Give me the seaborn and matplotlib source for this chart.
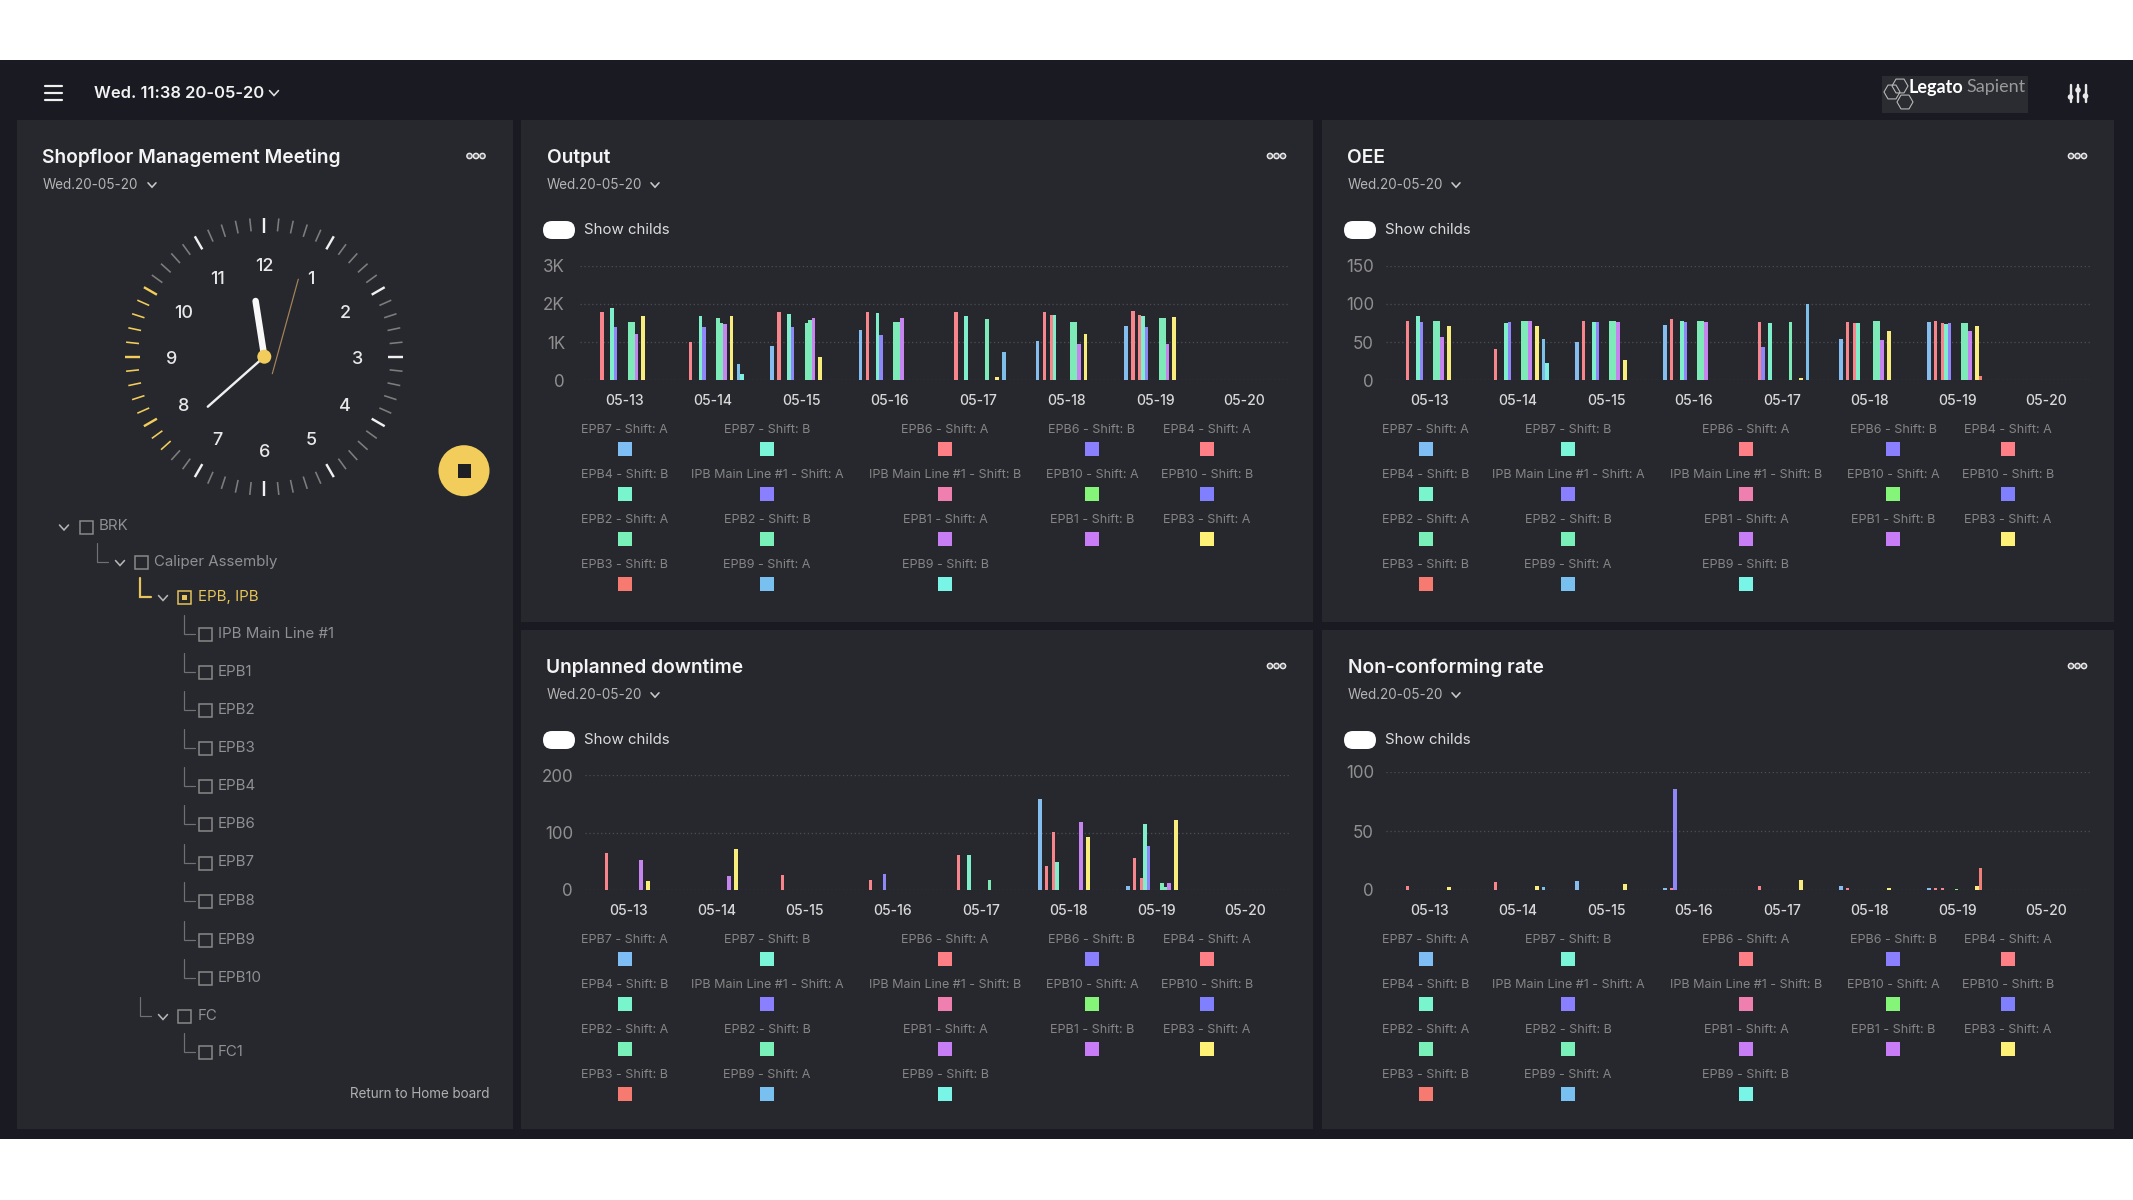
import math
import matplotlib
matplotlib.use("Agg")
import matplotlib.pyplot as plt
from matplotlib.patches import Rectangle, FancyBboxPatch, Circle, RegularPolygon
import pandas as pd
import seaborn as sns

# ---------- data ----------
DAYS = ["05-13", "05-14", "05-15", "05-16", "05-17", "05-18", "05-19", "05-20"]
SERIES = ["EPB7 - Shift: A", "EPB7 - Shift: B", "EPB6 - Shift: A", "EPB6 - Shift: B", "EPB4 - Shift: A",
          "EPB4 - Shift: B", "IPB Main Line #1 - Shift: A", "IPB Main Line #1 - Shift: B", "EPB10 - Shift: A",
          "EPB10 - Shift: B", "EPB2 - Shift: A", "EPB2 - Shift: B", "EPB1 - Shift: A", "EPB1 - Shift: B",
          "EPB3 - Shift: A", "EPB3 - Shift: B", "EPB9 - Shift: A", "EPB9 - Shift: B"]
COLORS = ["#7fbdf5", "#7bf5d8", "#ff7f86", "#8a80ff", "#ff7f86", "#78f5cc", "#8a80ff", "#ef7fae", "#85f57a",
          "#8080ff", "#78f0b8", "#78f0b8", "#c77ef5", "#c87cf5", "#fff176", "#f77a70", "#78c0f0", "#78f5e6"]

# one row per day, one column per series
OUTPUT = [
    [0, 0, 1790, 0, 0, 1900, 1400, 0, 0, 0, 1520, 1520, 1200, 0, 1690, 0, 0, 0],
    [0, 0, 990, 0, 0, 1690, 1400, 0, 0, 0, 1620, 1510, 1470, 0, 1690, 0, 420, 160],
    [900, 0, 1790, 0, 0, 1730, 1400, 0, 0, 0, 1510, 1570, 1620, 0, 600, 0, 0, 0],
    [1310, 0, 1790, 0, 0, 1760, 1180, 0, 0, 0, 1520, 1520, 1620, 0, 0, 0, 0, 0],
    [0, 0, 1790, 0, 0, 1690, 0, 0, 0, 0, 0, 1600, 0, 0, 90, 0, 750, 0],
    [1020, 0, 1790, 0, 1700, 1700, 0, 0, 0, 0, 1520, 1520, 960, 0, 1200, 0, 0, 0],
    [1410, 0, 1810, 0, 1700, 1680, 1400, 0, 0, 0, 1620, 1620, 940, 0, 1670, 0, 0, 0],
    [0] * 18,
]
OEE = [
    [0, 0, 78, 0, 0, 84, 76, 0, 0, 0, 78, 78, 57, 0, 71, 0, 0, 0],
    [0, 0, 41, 0, 0, 75, 76, 0, 0, 0, 77, 77, 77, 0, 71, 0, 54, 23],
    [50, 0, 78, 0, 0, 76, 76, 0, 0, 0, 78, 78, 76, 0, 27, 0, 0, 0],
    [72, 0, 80, 0, 0, 77, 76, 0, 0, 0, 78, 78, 76, 0, 0, 0, 0, 0],
    [0, 0, 76, 43, 0, 75, 0, 0, 0, 0, 0, 76, 0, 0, 3.5, 0, 100, 0],
    [54, 0, 76, 0, 75, 75, 0, 0, 0, 0, 78, 78, 53, 0, 65, 0, 0, 0],
    [76, 0, 78, 0, 75, 74, 75, 0, 0, 0, 75, 75, 65, 0, 71, 6, 0, 0],
    [0] * 18,
]
DOWNTIME = [
    [0, 0, 65, 0, 0, 0, 0, 0, 0, 0, 0, 0, 53, 0, 16, 0, 0, 0],
    [0, 0, 0, 0, 0, 0, 0, 0, 0, 0, 0, 0, 24, 0, 72, 0, 0, 0],
    [0, 0, 26, 0, 0, 0, 0, 0, 0, 0, 0, 0, 0, 0, 0, 0, 0, 0],
    [0, 0, 17, 0, 0, 0, 28, 0, 0, 0, 0, 0, 0, 0, 0, 0, 0, 0],
    [0, 0, 61, 0, 0, 61, 0, 0, 0, 0, 0, 17, 0, 0, 0, 0, 0, 0],
    [158, 0, 42, 0, 101, 48, 0, 0, 0, 0, 0, 0, 119, 0, 93, 0, 0, 0],
    [7, 0, 55, 0, 21, 115, 77, 0, 0, 0, 13, 6, 13, 0, 121, 0, 0, 0],
    [0] * 18,
]
NONCONF = [
    [0, 0, 3, 0, 0, 0, 0, 0, 0, 0, 0, 0, 0, 0, 2.5, 0, 0, 0],
    [0, 0, 7, 0, 0, 0, 0, 0, 0, 0, 0, 0, 0, 0, 3, 0, 2.5, 0],
    [8, 0, 0, 0, 0, 0, 0, 0, 0, 0, 0, 0, 0, 0, 5, 0, 0, 0],
    [1.5, 0, 1.5, 86, 0, 0, 0, 0, 0, 0, 0, 0, 0, 0, 0, 0, 0, 0],
    [0, 0, 3, 0, 0, 0, 0, 0, 0, 0, 0, 0, 0, 0, 8.5, 0, 0, 0],
    [3.7, 0, 1.5, 0, 0, 0, 0, 0, 0, 0, 0, 0, 0, 0, 1.5, 0, 0, 0],
    [1.5, 0, 1.5, 0, 1.5, 0, 0, 0, 1, 0, 0, 0, 0, 0, 3, 19, 0, 0],
    [0] * 18,
]
OUTPUT_TICKS, OUTPUT_TICKLABELS = [0, 1000, 2000, 3000], ["0", "1K", "2K", "3K"]
OEE_TICKS = [0, 50, 100, 150]
DOWNTIME_TICKS = [0, 100, 200]
NONCONF_TICKS = [0, 50, 100]
TREE_ROWS = [("BRK", 0), ("Caliper Assembly", 1), ("EPB, IPB", 2), ("IPB Main Line #1", 3), ("EPB1", 3), ("EPB2", 3),
             ("EPB3", 3), ("EPB4", 3), ("EPB6", 3), ("EPB7", 3), ("EPB8", 3), ("EPB9", 3), ("EPB10", 3), ("FC", 2),
             ("FC1", 3)]
CLOCK_NUMBERS = list(range(1, 13))

# ---------- style ----------
sns.set_theme(style="dark")
plt.rcParams["font.family"] = ["Inter", "DejaVu Sans"]
W, H = 2133, 1200
BAND, PANEL, YEL = "#1a1b22", "#27282d", "#f2cd5c"
GRID, AXTXT, LEGTXT = "#4c4d52", "#8f8f8f", "#858585"


def pt(px):
    return px * 0.72


fig = plt.figure(figsize=(W / 100, H / 100), dpi=100, facecolor="white")
bg = fig.add_axes([0, 0, 1, 1], zorder=0)
bg.set_xlim(0, W)
bg.set_ylim(H, 0)
bg.axis("off")


def rect(x0, y0, x1, y1, color, z=1):
    bg.add_patch(Rectangle((x0, y0), x1 - x0, y1 - y0, facecolor=color, edgecolor="none", zorder=z))


def label(x, y, s, px, color, ha="left", weight="normal", **kw):
    bg.text(x, y, s, fontsize=pt(px), color=color, ha=ha, va="center", fontweight=weight, zorder=5, **kw)


def line(xs, ys, color, px=1.2, z=4, cap="round"):
    bg.plot(xs, ys, color=color, lw=pt(px), solid_capstyle=cap, solid_joinstyle="miter", zorder=z)


def chevron(x, y, s=4, color="#c8c8c8", px=1.6):
    line([x - s, x, x + s], [y - s * 0.55, y + s * 0.55, y - s * 0.55], color, px)


def dots(cx, y):
    for d in (-6.5, 0, 6.5):
        bg.add_patch(Circle((cx + d, y), 2.6, facecolor="#55565a", edgecolor="#e8e8e8", lw=pt(1.5), zorder=5))


def pill(x0, y0, x1, y1, color="white"):
    r = (y1 - y0) / 2
    bg.add_patch(FancyBboxPatch((x0 + r, y0 + r), x1 - x0 - 2 * r, 0.01, boxstyle=f"round,pad={r - 0.01}",
                                facecolor=color, edgecolor="none", zorder=4))


# page background
rect(0, 60, W, 1139, BAND, 0)
for x0, y0, x1, y1 in [(17, 120, 513, 1129), (521, 120, 1313, 622), (1322, 120, 2114, 622),
                       (521, 630, 1313, 1129), (1322, 630, 2114, 1129)]:
    rect(x0, y0, x1, y1, PANEL)

# header
for y in (86, 93, 100):
    line([45, 62], [y, y], "#f0f0f0", 2.2)
label(94, 93, "Wed. 11:38 20-05-20", 16.5, "#f2f2f2", weight="semibold")
chevron(274, 93, 4.5, "#e0e0e0")
rect(1882, 76, 2028, 113, "#2b2c31", 2)
for cx, cy in [(1892, 92), (1900, 86), (1905, 102)]:
    bg.add_patch(RegularPolygon((cx, cy), 6, radius=8, orientation=math.pi / 2,
                                facecolor="none", edgecolor="#b8b8b8", lw=pt(1.1), zorder=4))
label(1908, 87, "Legato", 18, "white", family="Lato", weight="bold")
label(1966, 87, "Sapient", 18, "#9a9a9a", family="Lato", fontstretch="normal")
for x, ky in [(2070.5, 97), (2078, 90), (2085.5, 96)]:
    line([x, x], [85, 102], "#e8e8e8", 2.4)
    bg.add_patch(Circle((x, ky), 2.8, facecolor="#e8e8e8", edgecolor="none", zorder=5))

# left panel heading
label(42, 158, "Shopfloor Management Meeting", 19.2, "#f4f4f4", weight="semibold")
label(43, 185, "Wed.20-05-20", 13.5, "#b4b4b4")
chevron(152, 185)
dots(476, 156)

# clock
CX, CY = 264.3, 356.7
for m in range(60):
    a = math.radians(m * 6)
    major = m % 5 == 0
    yellow = 38 <= m <= 50
    ri = 124 if major else 126
    col = YEL if yellow else ("#f0f0f0" if major else "#7d7d7d")
    line([CX + ri * math.sin(a), CX + 139 * math.sin(a)], [CY - ri * math.cos(a), CY - 139 * math.cos(a)], col,
         2.4 if major else 1.6, cap="butt")
for n in CLOCK_NUMBERS:
    a = math.radians(n * 30)
    bg.text(CX + 93 * math.sin(a), CY + 3 - 93 * math.cos(a), str(n), fontsize=pt(18), color="#e8e8e8", ha="center",
            va="center", fontweight="medium", zorder=5)
line([CX + 8, CX + 34], [CY + 17, CY - 42.5 - 35], "#a5845a", 1.2)
line([CX, CX - 56.5], [CY, CY + 50], "#f0f0f0", 2.4)
line([CX, CX - 8.7], [CY, CY - 55.7], "#f8f8f8", 6.5)
bg.add_patch(Circle((CX, CY), 7, facecolor=YEL, edgecolor="none", zorder=6))
bg.add_patch(Circle((464, 470.7), 25.5, facecolor=YEL, edgecolor="none", zorder=5))
rect(457.5, 464, 470.5, 477.5, "#1e1f24", 6)

# tree
ROW_Y = [526.5, 562, 597, 634, 672, 710, 748, 786, 824, 862.5, 900.6, 940, 978, 1016, 1051.6]
LEVEL_BOX = [80, 135, 178, 199]
LEVEL_TXT = [99, 154, 198, 218]
LEVEL_CHEV = [64, 120, 163, None]
LEVEL_ELBOW = [None, 97, 140, 184]
for (name, lvl), y in zip(TREE_ROWS, ROW_Y):
    sel = name == "EPB, IPB"
    col = "#e8c55a" if sel else "#8f9094"
    if LEVEL_ELBOW[lvl] is not None:
        ex = LEVEL_ELBOW[lvl]
        line([ex, ex, ex + 11], [y - 19, y, y], "#e8c55a" if sel else "#6f7074", 2.2 if sel else 1.2)
    if LEVEL_CHEV[lvl] is not None:
        chevron(LEVEL_CHEV[lvl], y + 1, 4.5, "#b5b5b5")
    bx = LEVEL_BOX[lvl]
    bg.add_patch(Rectangle((bx, y - 6), 13, 13, facecolor="none", edgecolor="#e8c55a" if sel else "#8a8a8a",
                           lw=pt(1.5), zorder=4))
    if sel:
        rect(bx + 4, y - 2, bx + 9, y + 3, "#e8c55a", 5)
    label(LEVEL_TXT[lvl], y, name, 15, col)
label(489, 1094, "Return to Home board", 13.5, "#b0b0b0", ha="right")

# chart panels
LEG_X = [624.5, 767, 945, 1092, 1207]
LEG_Y = [430, 475, 520, 565]


def panel(dx, dy, title):
    label(546.5 + dx, 158 + dy, title, 19.2, "#f4f4f4", weight="semibold")
    label(547 + dx, 185 + dy, "Wed.20-05-20", 13.5, "#b4b4b4")
    chevron(655 + dx, 185 + dy)
    dots(1276.5 + dx, 156 + dy)
    pill(543 + dx, 221 + dy, 575 + dx, 239 + dy)
    label(584 + dx, 230 + dy, "Show childs", 15, "#dcdcdc")
    for i, s in enumerate(SERIES):
        r, c = divmod(i, 5)
        lx = LEG_X[c] + dx
        label(lx, LEG_Y[r] + dy, s, 12.5, LEGTXT, ha="center")
        rect(lx - 7, LEG_Y[r] + 12 + dy, lx + 7, LEG_Y[r] + 26 + dy, COLORS[i], 4)


def chart(x0, x1, y_top, y_bot, values, ticks, ticklabels, ypad):
    ax = fig.add_axes([x0 / W, 1 - y_bot / H, (x1 - x0) / W, (y_bot - y_top) / H], zorder=2)
    ax.patch.set_alpha(0)
    df = pd.DataFrame(values, columns=SERIES, index=DAYS).rename_axis("day").reset_index()
    df = df.melt(id_vars="day", var_name="series", value_name="value")
    sns.barplot(data=df, x="day", y="value", hue="series", order=DAYS, hue_order=SERIES, palette=COLORS,
                width=0.7, errorbar=None, saturation=0.9, legend=False, linewidth=0, ax=ax)
    ax.set_xlim(-0.5, 7.5)
    ax.set_ylim(0, ticks[-1])
    ax.set_xlabel("")
    ax.set_ylabel("")
    ax.set_yticks(ticks)
    ax.set_yticklabels(ticklabels, fontsize=pt(17), color=AXTXT)
    ax.tick_params(axis="y", length=0, pad=pt(ypad))
    ax.tick_params(axis="x", length=0, pad=pt(14), labelsize=pt(14), labelcolor="#d8d8d8")
    ax.grid(axis="y", color=GRID, lw=pt(1.3), linestyle=(0, (1, 2)), zorder=0)
    ax.grid(axis="x", visible=False)
    ax.set_axisbelow(True)
    for s in ax.spines.values():
        s.set_visible(False)
    for t in ax.get_xticklabels():
        t.set_fontweight("medium")
    return ax


panel(0, 0, "Output")
panel(801, 0, "OEE")
panel(0, 510, "Unplanned downtime")
panel(801, 510, "Non-conforming rate")

chart(580, 1288, 265.7, 380.3, OUTPUT, OUTPUT_TICKS, OUTPUT_TICKLABELS, 15)
chart(1386, 2090, 265.7, 380.3, OEE, OEE_TICKS, OEE_TICKS, 12)
chart(585, 1289, 775, 890, DOWNTIME, DOWNTIME_TICKS, DOWNTIME_TICKS, 12)
chart(1386, 2090, 772, 890, NONCONF, NONCONF_TICKS, NONCONF_TICKS, 12)

fig.savefig("out.png", dpi=100, facecolor="white")
